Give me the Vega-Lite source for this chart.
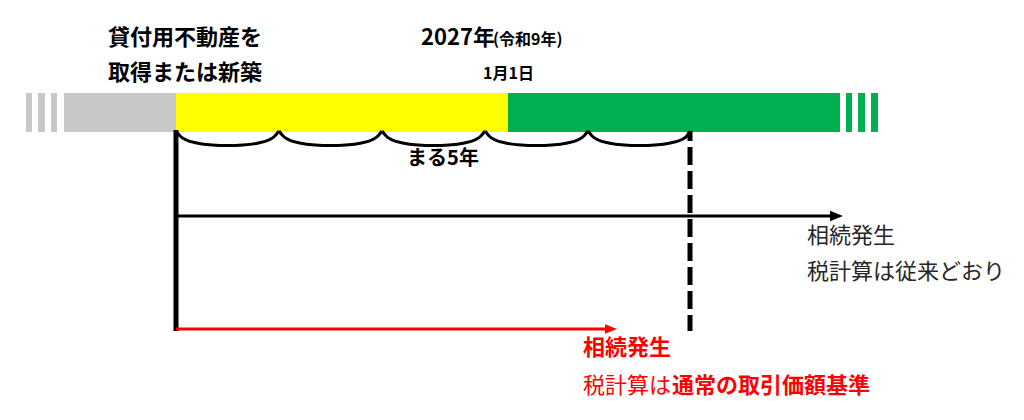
{
  "$schema": "https://vega.github.io/schema/vega-lite/v6.json",
  "width": 1024,
  "height": 420,
  "padding": 0,
  "autosize": {"type": "fit", "contains": "padding"},
  "config": {"view": {"stroke": null}, "font": "Noto Sans CJK JP"},
  "resolve": {"scale": {"color": "independent", "size": "independent"}},
  "datasets": {
    "bars": [
      {"x0": 26, "x1": 32, "y0": 93, "y1": 132, "phase": "before"},
      {"x0": 38, "x1": 45, "y0": 93, "y1": 132, "phase": "before"},
      {"x0": 51, "x1": 57, "y0": 93, "y1": 132, "phase": "before"},
      {"x0": 64, "x1": 176, "y0": 93, "y1": 132, "phase": "before"},
      {"x0": 176, "x1": 508, "y0": 93, "y1": 132, "phase": "holding"},
      {"x0": 508, "x1": 840, "y0": 93, "y1": 132, "phase": "after"},
      {"x0": 846, "x1": 852, "y0": 93, "y1": 132, "phase": "after"},
      {"x0": 858, "x1": 865, "y0": 93, "y1": 132, "phase": "after"},
      {"x0": 871, "x1": 878, "y0": 93, "y1": 132, "phase": "after"}
    ],
    "brace": [
      {"seg": 1, "x": 176, "y": 131}, {"seg": 1, "x": 180.1, "y": 136}, {"seg": 1, "x": 186.3, "y": 140}, {"seg": 1, "x": 196.6, "y": 143}, {"seg": 1, "x": 212.1, "y": 145}, {"seg": 1, "x": 227.5, "y": 145.5}, {"seg": 1, "x": 242.9, "y": 145}, {"seg": 1, "x": 258.4, "y": 143}, {"seg": 1, "x": 268.7, "y": 140}, {"seg": 1, "x": 274.9, "y": 136}, {"seg": 1, "x": 279, "y": 131},
      {"seg": 2, "x": 279, "y": 131}, {"seg": 2, "x": 283.1, "y": 136}, {"seg": 2, "x": 289.3, "y": 140}, {"seg": 2, "x": 299.6, "y": 143}, {"seg": 2, "x": 315.1, "y": 145}, {"seg": 2, "x": 330.5, "y": 145.5}, {"seg": 2, "x": 345.9, "y": 145}, {"seg": 2, "x": 361.4, "y": 143}, {"seg": 2, "x": 371.7, "y": 140}, {"seg": 2, "x": 377.9, "y": 136}, {"seg": 2, "x": 382, "y": 131},
      {"seg": 3, "x": 382, "y": 131}, {"seg": 3, "x": 386.1, "y": 136}, {"seg": 3, "x": 392.3, "y": 140}, {"seg": 3, "x": 402.6, "y": 143}, {"seg": 3, "x": 418.1, "y": 145}, {"seg": 3, "x": 433.5, "y": 145.5}, {"seg": 3, "x": 448.9, "y": 145}, {"seg": 3, "x": 464.4, "y": 143}, {"seg": 3, "x": 474.7, "y": 140}, {"seg": 3, "x": 480.9, "y": 136}, {"seg": 3, "x": 485, "y": 131},
      {"seg": 4, "x": 485, "y": 131}, {"seg": 4, "x": 489.1, "y": 136}, {"seg": 4, "x": 495.3, "y": 140}, {"seg": 4, "x": 505.6, "y": 143}, {"seg": 4, "x": 521.1, "y": 145}, {"seg": 4, "x": 536.5, "y": 145.5}, {"seg": 4, "x": 551.9, "y": 145}, {"seg": 4, "x": 567.4, "y": 143}, {"seg": 4, "x": 577.7, "y": 140}, {"seg": 4, "x": 583.9, "y": 136}, {"seg": 4, "x": 588, "y": 131},
      {"seg": 5, "x": 588, "y": 131}, {"seg": 5, "x": 592.1, "y": 136}, {"seg": 5, "x": 598.3, "y": 140}, {"seg": 5, "x": 608.6, "y": 143}, {"seg": 5, "x": 624.1, "y": 145}, {"seg": 5, "x": 639.5, "y": 145.5}, {"seg": 5, "x": 654.9, "y": 145}, {"seg": 5, "x": 670.4, "y": 143}, {"seg": 5, "x": 680.7, "y": 140}, {"seg": 5, "x": 686.9, "y": 136}, {"seg": 5, "x": 690, "y": 131}
    ],
    "arrows": [
      {"kind": "current", "x0": 176, "x1": 834, "y": 216},
      {"kind": "new", "x0": 176, "x1": 608, "y": 329}
    ],
    "heads": [
      {"kind": "current", "x": 836.5, "y": 216},
      {"kind": "new", "x": 611, "y": 329}
    ]
  },
  "layer": [
    {
      "data": {"name": "bars"},
      "mark": {"type": "rect"},
      "encoding": {
        "x": {"field": "x0", "type": "quantitative", "scale": {"domain": [0, 1024], "nice": false, "zero": false}, "axis": null},
        "x2": {"field": "x1"},
        "y": {"field": "y0", "type": "quantitative", "scale": {"domain": [0, 420], "nice": false, "zero": false, "reverse": true}, "axis": null},
        "y2": {"field": "y1"},
        "color": {"field": "phase", "type": "nominal", "scale": {"domain": ["before", "holding", "after"], "range": ["#c8c8c8", "#ffff00", "#00b050"]}, "legend": null}
      }
    },
    {
      "data": {"name": "brace"},
      "mark": {"type": "line", "interpolate": "monotone", "color": "#000000", "strokeWidth": 3},
      "encoding": {
        "x": {"field": "x", "type": "quantitative"},
        "y": {"field": "y", "type": "quantitative"},
        "detail": {"field": "seg", "type": "nominal"}
      }
    },
    {
      "data": {"values": [{"x": 176, "y0": 130, "y1": 331}]},
      "mark": {"type": "rule", "color": "#000000", "strokeWidth": 5},
      "encoding": {
        "x": {"field": "x", "type": "quantitative"},
        "y": {"field": "y0", "type": "quantitative"},
        "y2": {"field": "y1"}
      }
    },
    {
      "data": {"values": [{"x": 690, "y0": 131, "y1": 331}]},
      "mark": {"type": "rule", "color": "#000000", "strokeWidth": 5, "strokeDash": [18, 6], "strokeDashOffset": 8},
      "encoding": {
        "x": {"field": "x", "type": "quantitative"},
        "y": {"field": "y0", "type": "quantitative"},
        "y2": {"field": "y1"}
      }
    },
    {
      "data": {"name": "arrows"},
      "mark": {"type": "rule", "strokeWidth": 3},
      "encoding": {
        "x": {"field": "x0", "type": "quantitative"},
        "x2": {"field": "x1"},
        "y": {"field": "y", "type": "quantitative"},
        "color": {"field": "kind", "type": "nominal", "scale": {"domain": ["current", "new"], "range": ["#000000", "#ff0000"]}, "legend": null}
      }
    },
    {
      "data": {"name": "heads"},
      "mark": {"type": "point", "filled": true, "opacity": 1, "shape": "M-1,-0.8L1,0L-1,0.8Z", "strokeWidth": 0},
      "encoding": {
        "x": {"field": "x", "type": "quantitative"},
        "y": {"field": "y", "type": "quantitative"},
        "color": {"field": "kind", "type": "nominal", "scale": {"domain": ["current", "new"], "range": ["#000000", "#ff0000"]}, "legend": null},
        "size": {"field": "kind", "type": "nominal", "scale": {"domain": ["current", "new"], "range": [169, 144]}, "legend": null}
      }
    },
    {
      "data": {"values": [
        {"t": "貸付用不動産を", "x": 108, "y": 38},
        {"t": "取得または新築", "x": 108, "y": 73},
        {"t": "2027年", "x": 421, "y": 38}
      ]},
      "mark": {"type": "text", "align": "left", "baseline": "middle", "fontSize": 22, "fontWeight": "bold", "color": "#000000"},
      "encoding": {"x": {"field": "x", "type": "quantitative"}, "y": {"field": "y", "type": "quantitative"}, "text": {"field": "t"}}
    },
    {
      "data": {"values": [{"t": "まる5年", "x": 443, "y": 159}]},
      "mark": {"type": "text", "align": "center", "baseline": "middle", "fontSize": 20, "fontWeight": "bold", "color": "#000000"},
      "encoding": {"x": {"field": "x", "type": "quantitative"}, "y": {"field": "y", "type": "quantitative"}, "text": {"field": "t"}}
    },
    {
      "data": {"values": [
        {"t": "(令和9年)", "x": 493, "y": 40},
        {"t": "1月1日", "x": 483, "y": 74}
      ]},
      "mark": {"type": "text", "align": "left", "baseline": "middle", "fontSize": 16, "fontWeight": "bold", "color": "#000000"},
      "encoding": {"x": {"field": "x", "type": "quantitative"}, "y": {"field": "y", "type": "quantitative"}, "text": {"field": "t"}}
    },
    {
      "data": {"values": [
        {"t": "相続発生", "x": 807, "y": 236},
        {"t": "税計算は従来どおり", "x": 807, "y": 272}
      ]},
      "mark": {"type": "text", "align": "left", "baseline": "middle", "fontSize": 22, "fontWeight": "normal", "color": "#262626"},
      "encoding": {"x": {"field": "x", "type": "quantitative"}, "y": {"field": "y", "type": "quantitative"}, "text": {"field": "t"}}
    },
    {
      "data": {"values": [
        {"t": "相続発生", "x": 583, "y": 348},
        {"t": "通常の取引価額基準", "x": 672, "y": 386}
      ]},
      "mark": {"type": "text", "align": "left", "baseline": "middle", "fontSize": 22, "fontWeight": "bold", "color": "#ff0000"},
      "encoding": {"x": {"field": "x", "type": "quantitative"}, "y": {"field": "y", "type": "quantitative"}, "text": {"field": "t"}}
    },
    {
      "data": {"values": [{"t": "税計算は", "x": 583, "y": 386}]},
      "mark": {"type": "text", "align": "left", "baseline": "middle", "fontSize": 22, "fontWeight": "normal", "color": "#ff0000"},
      "encoding": {"x": {"field": "x", "type": "quantitative"}, "y": {"field": "y", "type": "quantitative"}, "text": {"field": "t"}}
    }
  ]
}
